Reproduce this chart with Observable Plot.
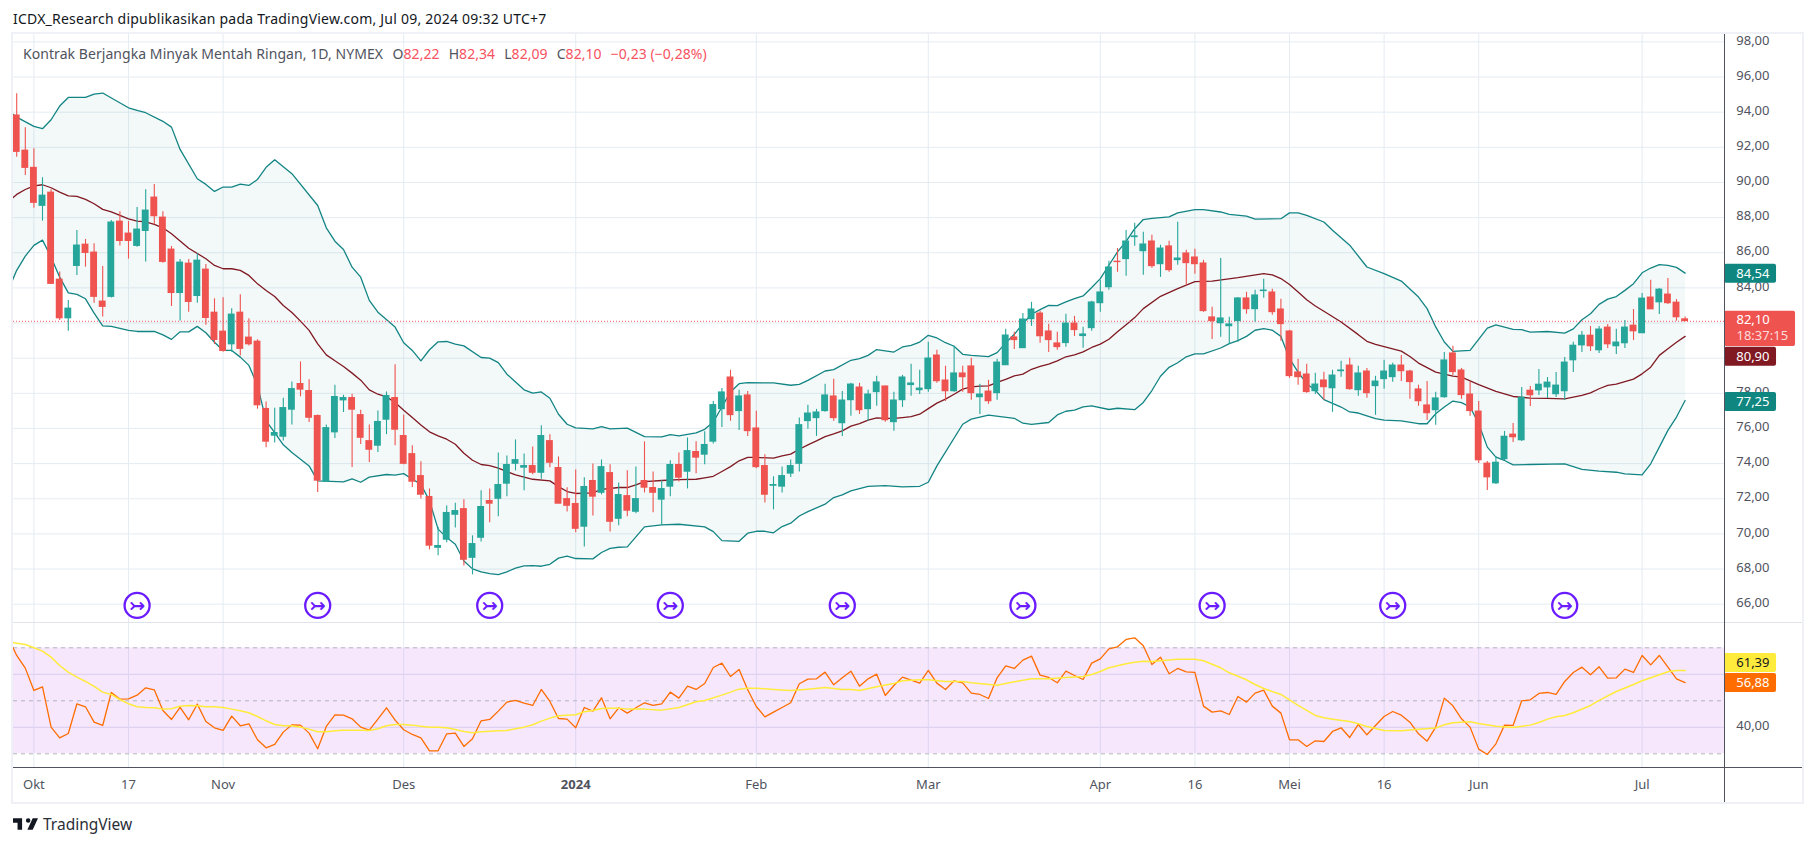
<!DOCTYPE html>
<html lang="id">
<head>
<meta charset="utf-8">
<title>Kontrak Berjangka Minyak Mentah Ringan</title>
<script src="https://cdn.jsdelivr.net/npm/d3@7"></script>
<script src="https://cdn.jsdelivr.net/npm/@observablehq/plot@0.6"></script>
<style>
  html, body { margin: 0; padding: 0; background: #fff; overflow: hidden; }
  body { width: 1814px; height: 846px; position: relative; font-family: "Noto Sans", sans-serif; }
  .abs { position: absolute; }
  #publisher { left: 13px; top: 9px; font-size: 14px; line-height: 20px; color: #131722; white-space: nowrap; letter-spacing: 0.22px; }
  #legend { left: 23px; top: 44px; font-size: 14px; line-height: 20px; color: #50535e; white-space: nowrap; letter-spacing: 0.06px; }
  #legend span { margin-right: 9px; }
  #legend b { font-weight: 400; color: #f7525f; }
  #frame { left: 11px; top: 32px; width: 1789px; height: 768px; border: 2px solid #eff1f6; pointer-events: none; }
  #sep { left: 13px; top: 622px; width: 1789px; height: 1px; background: #e0e3eb; }
  #axisV { left: 1724px; top: 34px; width: 1px; height: 768px; background: #50535e; }
  #axisH { left: 13px; top: 767px; width: 1789px; height: 1px; background: #50535e; }
  #brand { left: 43px; top: 813px; font-size: 15.5px; line-height: 22px; color: #2a2e39; }
  #logo { left: 13px; top: 818px; }
</style>
</head>
<body>
<div id="publisher" class="abs"></div>
<div id="main" class="abs" style="left:0;top:33px"></div>
<div id="rsiPane" class="abs" style="left:0;top:622px"></div>
<div id="frame" class="abs"></div>
<div id="sep" class="abs"></div>
<div id="axisV" class="abs"></div>
<div id="axisH" class="abs"></div>
<div id="legend" class="abs"></div>
<svg id="logo" class="abs" width="25" height="12" viewBox="2 6 33 15"><path fill="#131722" d="M14 6H2v6h6v9h6V6Zm14 15h-7l7-15h7l-7 15Zm-6-9a3 3 0 1 0 0-6 3 3 0 0 0 0 6Z"/></svg>
<div id="brand" class="abs"></div>
<script>
const publisherLine = "ICDX_Research dipublikasikan pada TradingView.com, Jul 09, 2024 09:32 UTC+7";
const brandName = "TradingView";
const symbolName = "Kontrak Berjangka Minyak Mentah Ringan, 1D, NYMEX";
const ohlcLegend = [["O","82,22"],["H","82,34"],["L","82,09"],["C","82,10"]];
const changeLegend = "\u22120,23 (\u22120,28%)";

const barHigh = [95.05,93.11,91.92,90.27,89.59,84.90,83.29,87.27,86.76,86.51,
85.22,87.84,88.33,87.78,88.58,89.59,89.89,88.33,86.36,85.62,
85.62,85.94,85.33,83.38,83.44,82.81,83.61,82.24,81.05,77.51,
77.15,77.72,78.65,79.79,78.77,76.77,76.20,78.46,77.89,77.95,
77.04,76.20,77.00,78.08,79.62,76.77,75.01,74.10,72.56,70.36,
71.59,71.75,71.94,69.89,72.45,72.56,74.61,74.44,75.35,74.55,
74.95,76.15,75.64,74.38,72.62,73.64,73.19,73.98,74.21,73.93,
72.90,73.59,73.81,75.24,73.53,73.02,74.16,74.61,75.46,75.24,
75.81,77.54,78.28,79.31,78.17,78.11,76.98,74.50,73.25,73.81,
74.21,76.60,77.32,77.09,78.51,78.80,78.11,78.57,78.57,78.17,
78.97,78.40,78.06,79.02,79.65,79.31,80.90,80.45,79.54,80.68,
79.54,79.99,78.51,78.74,79.94,81.64,81.47,82.55,83.18,82.67,
81.93,81.47,82.50,82.38,81.76,83.24,84.43,85.51,86.24,87.26,
87.68,87.17,86.99,86.43,86.65,87.73,86.14,86.20,85.57,82.90,
85.68,82.33,83.46,83.75,83.86,84.49,83.92,83.35,81.59,79.94,
79.65,79.14,79.20,79.31,79.82,79.99,79.54,79.42,78.97,79.88,
79.71,80.16,79.31,78.46,78.68,78.06,80.33,80.68,79.42,78.63,
77.54,74.12,74.41,75.83,76.28,78.33,78.39,79.36,78.90,79.19,
80.04,80.90,81.52,81.81,81.81,81.92,81.64,82.15,82.77,83.68,
84.43,83.97,84.54,83.34,82.34];

const barLow = [91.44,90.40,88.54,87.80,84.22,82.15,81.54,84.71,85.18,83.13,
82.34,83.42,86.38,85.64,86.32,85.47,87.59,85.41,82.94,82.11,
82.62,83.13,81.88,80.78,80.34,80.34,80.12,80.69,77.10,74.90,
75.18,75.29,76.20,77.80,76.34,72.35,72.92,75.43,76.91,73.78,
75.09,74.06,74.63,75.65,75.01,73.93,72.64,71.99,69.09,68.75,
69.49,70.34,68.18,67.67,69.54,70.63,70.97,72.11,73.59,72.45,
73.36,73.11,73.76,71.71,71.25,70.06,69.26,71.02,72.22,70.11,
70.46,70.97,71.14,72.33,71.20,70.46,72.11,72.96,72.56,73.42,
73.93,75.12,76.06,76.41,75.89,75.55,73.71,71.76,71.37,72.33,
73.21,73.53,75.95,75.55,76.92,76.41,75.55,76.69,76.80,76.41,
77.26,76.35,75.84,77.20,77.83,77.94,78.06,78.57,77.54,78.06,
78.06,77.60,76.80,77.37,77.60,79.59,80.50,80.56,81.81,80.85,
80.33,80.45,80.62,81.24,80.56,81.53,82.61,83.86,84.89,84.66,
86.37,84.72,85.12,84.60,84.89,85.29,84.15,84.77,82.61,81.07,
81.19,80.79,80.90,82.50,82.04,83.41,82.44,80.96,78.85,78.46,
78.00,77.94,77.60,76.92,78.91,78.17,77.83,77.72,76.75,78.23,
78.63,78.68,77.66,77.26,76.46,76.18,77.72,79.02,77.66,76.69,
74.01,72.47,72.81,74.18,75.20,75.26,77.25,77.88,77.71,77.76,
77.59,79.19,80.33,80.38,80.27,80.55,80.21,80.55,81.01,81.41,
82.77,82.49,83.06,82.11,82.09];

const barOpen = [93.82,91.82,90.84,88.66,89.43,84.48,82.26,85.24,86.47,86.02,
83.23,83.48,87.78,87.10,86.38,87.23,89.15,88.01,86.19,83.70,
85.39,83.53,85.05,82.60,81.52,80.78,82.60,81.18,80.95,77.12,
75.58,75.52,77.06,78.54,78.14,76.72,72.96,75.77,77.59,77.74,
76.77,75.29,75.01,76.49,77.74,75.58,74.55,73.30,72.11,69.20,
69.66,71.08,71.42,68.63,69.77,71.88,71.99,72.85,73.98,73.76,
73.87,73.47,75.29,73.76,71.99,71.71,70.40,73.02,72.33,73.47,
70.85,72.16,71.25,73.02,72.62,71.94,72.68,73.93,73.53,74.67,
74.50,75.24,77.09,78.91,76.98,77.89,76.01,73.87,72.73,72.68,
73.42,73.98,76.41,76.58,76.98,77.83,76.29,77.60,78.34,77.09,
78.06,78.40,76.35,77.60,78.46,78.17,78.23,80.16,78.74,78.11,
79.14,79.54,77.77,78.11,78.00,79.59,81.19,80.56,82.21,82.55,
81.53,80.85,80.85,81.98,81.25,81.70,83.12,84.03,85.50,85.63,
86.88,86.08,86.65,85.34,86.37,85.57,85.97,85.74,85.40,82.33,
81.98,81.81,82.10,83.41,82.78,83.81,83.75,82.78,81.53,79.20,
79.08,78.11,78.74,78.28,79.25,79.59,78.17,79.25,78.40,78.80,
78.91,79.59,79.25,78.23,77.32,77.03,77.77,80.28,79.31,77.94,
76.97,74.01,72.87,74.24,75.66,75.32,78.16,78.16,78.33,77.94,
78.11,79.87,80.72,81.29,80.44,81.75,80.67,80.84,81.86,81.41,
83.46,83.17,83.63,83.17,82.22];

const barClose = [91.73,90.82,88.83,89.26,84.22,82.26,82.83,86.42,85.98,83.48,
82.91,87.73,86.66,86.66,87.33,88.41,88.07,85.47,83.70,85.45,
83.19,85.56,82.28,81.03,80.40,82.49,80.52,80.78,77.31,75.24,
75.75,77.17,78.25,78.20,76.60,73.02,76.03,77.80,77.74,77.06,
75.46,74.78,76.38,77.86,75.92,73.98,72.96,72.22,69.32,69.32,
71.20,71.31,68.52,69.43,71.54,71.71,72.79,73.93,74.21,73.87,
73.47,75.58,74.04,71.71,71.59,70.28,72.68,72.11,73.81,70.68,
72.22,71.31,71.99,72.62,72.33,72.56,73.93,73.19,74.72,74.33,
75.07,77.34,78.06,76.75,77.83,75.84,73.79,72.22,72.79,73.30,
73.87,76.20,76.86,76.92,77.89,76.58,77.60,78.51,77.03,77.94,
78.63,76.46,77.60,78.91,78.57,78.28,79.99,78.68,78.11,79.14,
78.91,78.00,77.94,77.54,79.76,81.30,81.02,82.21,82.78,81.24,
81.02,80.62,81.98,81.59,81.36,83.18,83.75,85.17,85.46,86.65,
86.94,86.48,85.23,86.25,85.00,85.68,85.40,85.34,82.67,82.10,
82.27,81.93,83.41,82.78,83.58,83.86,82.61,81.93,78.97,78.91,
78.06,78.51,78.34,79.02,79.31,78.23,79.14,78.00,78.68,79.25,
79.59,79.25,78.63,77.54,76.86,77.72,79.88,79.20,77.89,76.98,
74.18,73.21,74.06,75.54,75.49,77.76,77.88,78.50,78.62,78.45,
79.76,80.72,81.29,80.67,81.64,80.78,80.90,81.75,81.52,83.40,
82.77,83.91,83.12,82.32,82.10];

// Bollinger bands as [session index, price], read at the visible vertices
const upperBand = [[-1,94.10],[0,93.72],[2,93.19],[3,93.06],[4,93.57],[5,94.35],[6,94.84],[8,94.84],[9,95.03],[10,95.09],[13,94.25],[14,94.10],[15,93.97],[17,93.48],[18,93.15],[19,91.88],[21,90.21],[22,89.89],[23,89.49],[24,89.74],[25,89.74],[26,89.91],[27,89.83],[28,90.17],[29,90.86],[30,91.29],[32,90.50],[35,88.69],[36,87.42],[37,86.66],[38,86.19],[39,85.18],[40,84.61],[41,83.29],[42,82.62],[44,81.77],[45,80.88],[46,80.44],[47,79.85],[48,80.48],[49,80.93],[50,80.95],[51,80.80],[52,80.70],[54,80.04],[55,80.00],[56,79.75],[57,79.09],[59,78.20],[60,78.01],[61,78.08],[62,77.72],[63,76.81],[64,76.24],[65,76.03],[67,75.98],[68,76.11],[69,75.98],[71,76.02],[73,75.54],[75,75.52],[76,75.65],[77,75.58],[79,75.75],[80,75.95],[81,76.37],[82,77.22],[83,78.08],[84,78.55],[85,78.61],[88,78.59],[90,78.46],[91,78.51],[92,78.74],[94,79.27],[95,79.35],[97,79.88],[98,79.97],[99,80.16],[100,80.49],[102,80.35],[103,80.64],[104,80.73],[105,80.92],[106,81.30],[107,81.15],[108,80.88],[109,80.68],[110,80.22],[111,80.16],[113,80.09],[114,80.32],[115,80.87],[116,81.36],[117,81.97],[118,82.50],[119,82.76],[120,83.01],[121,82.99],[122,83.20],[123,83.39],[124,83.54],[125,84.02],[126,84.53],[127,85.29],[128,86.05],[129,86.65],[130,87.37],[131,87.89],[132,87.96],[134,88.04],[135,88.27],[137,88.46],[138,88.46],[140,88.32],[141,88.19],[143,88.08],[144,87.91],[147,87.94],[148,88.27],[149,88.27],[150,88.13],[152,87.75],[153,87.28],[155,86.43],[157,85.19],[159,84.81],[161,84.39],[163,83.48],[164,82.82],[165,81.78],[166,80.92],[167,80.39],[169,80.45],[171,81.71],[172,81.90],[174,81.64],[175,81.62],[176,81.48],[178,81.52],[180,81.43],[181,81.67],[182,82.19],[183,82.53],[184,83.06],[185,83.36],[186,83.51],[187,83.86],[188,84.24],[189,84.86],[190,85.13],[191,85.32],[192,85.28],[193,85.17],[194,84.84]];

const middleBand = [[-1,88.88],[0,89.32],[1,89.60],[2,89.81],[3,89.87],[4,89.70],[5,89.45],[6,89.24],[7,89.21],[8,89.04],[9,88.79],[10,88.47],[11,88.33],[13,87.93],[14,87.80],[15,87.76],[16,87.61],[17,87.42],[18,87.08],[20,86.26],[22,85.66],[23,85.28],[24,85.09],[25,85.09],[26,85.00],[27,84.71],[28,84.23],[29,83.85],[30,83.51],[31,83.00],[32,82.60],[33,82.11],[34,81.58],[35,80.82],[36,80.19],[37,79.85],[38,79.53],[39,79.15],[40,78.75],[41,78.20],[42,77.95],[43,77.80],[44,77.48],[45,77.04],[46,76.62],[47,76.20],[48,75.81],[49,75.58],[50,75.39],[51,75.10],[52,74.59],[53,74.19],[54,73.95],[55,73.89],[56,73.74],[58,73.36],[60,73.11],[62,73.02],[63,72.69],[64,72.41],[65,72.30],[67,72.33],[68,72.54],[70,72.64],[71,72.64],[72,72.79],[73,72.98],[75,73.04],[77,73.09],[79,73.11],[80,73.19],[81,73.28],[82,73.55],[83,73.83],[84,74.16],[85,74.35],[86,74.35],[88,74.31],[89,74.44],[90,74.54],[91,74.82],[92,75.07],[93,75.29],[94,75.54],[95,75.69],[96,75.86],[97,76.13],[98,76.28],[99,76.47],[100,76.60],[101,76.57],[102,76.57],[103,76.62],[104,76.68],[105,76.81],[106,77.13],[107,77.44],[108,77.67],[109,77.95],[110,78.24],[111,78.37],[112,78.41],[113,78.43],[114,78.62],[115,78.80],[116,78.99],[117,79.09],[118,79.37],[119,79.53],[120,79.66],[121,79.85],[122,80.08],[123,80.19],[124,80.36],[125,80.61],[126,80.80],[127,81.08],[128,81.50],[129,81.90],[130,82.31],[131,82.82],[133,83.52],[135,83.96],[137,84.36],[139,84.39],[142,84.58],[145,84.81],[146,84.74],[147,84.53],[148,84.19],[149,83.77],[150,83.33],[151,82.97],[152,82.67],[154,82.06],[156,81.34],[157,80.96],[158,80.79],[161,80.40],[162,80.10],[163,79.72],[165,79.21],[167,78.98],[168,78.92],[170,78.50],[172,78.11],[174,77.82],[176,77.73],[178,77.71],[180,77.69],[182,77.88],[183,78.03],[184,78.26],[185,78.45],[186,78.52],[188,78.81],[189,79.11],[190,79.49],[191,80.16],[192,80.54],[193,80.91],[194,81.24]];

const lowerBand = [[-1,83.85],[0,85.00],[1,85.81],[2,86.42],[3,86.72],[4,85.75],[5,84.61],[6,83.72],[7,83.63],[8,83.38],[9,82.56],[10,81.84],[11,81.81],[13,81.58],[14,81.52],[16,81.52],[17,81.33],[18,81.07],[19,81.50],[20,81.50],[21,81.81],[22,81.45],[23,80.91],[24,80.44],[25,80.44],[26,80.06],[27,79.59],[28,78.45],[29,76.43],[30,75.77],[31,75.07],[32,74.63],[33,74.25],[34,73.87],[35,73.02],[38,72.96],[39,73.13],[40,72.94],[41,73.23],[43,73.38],[44,73.34],[45,73.43],[46,73.11],[47,72.83],[48,71.88],[49,70.27],[50,69.79],[51,69.41],[52,68.46],[53,68.01],[54,67.84],[55,67.74],[56,67.68],[57,67.84],[58,68.05],[59,68.18],[60,68.20],[61,68.16],[62,68.27],[63,68.62],[64,68.73],[65,68.60],[67,68.58],[68,68.94],[69,69.18],[70,69.24],[71,69.26],[72,69.83],[73,70.40],[75,70.51],[77,70.55],[80,70.40],[81,70.13],[82,69.62],[84,69.58],[85,70.04],[86,70.15],[87,70.15],[88,70.06],[89,70.42],[90,70.61],[91,71.02],[92,71.27],[94,71.69],[95,72.07],[96,72.22],[97,72.45],[99,72.71],[101,72.75],[103,72.68],[105,72.71],[106,72.94],[107,73.87],[110,76.24],[111,76.53],[113,76.76],[116,76.58],[117,76.30],[118,76.23],[120,76.34],[121,76.77],[122,76.98],[123,77.04],[124,77.23],[125,77.29],[127,77.08],[128,77.15],[130,77.07],[131,77.48],[132,78.16],[133,78.97],[134,79.48],[135,79.74],[136,80.08],[137,80.24],[138,80.24],[140,80.58],[141,80.83],[142,81.00],[143,81.24],[144,81.59],[145,81.68],[146,81.59],[147,81.24],[148,79.97],[149,79.21],[150,78.55],[151,78.17],[152,77.64],[154,77.22],[155,76.94],[156,76.88],[158,76.56],[159,76.48],[161,76.43],[163,76.27],[164,76.27],[165,76.84],[166,77.22],[167,77.56],[168,77.47],[169,77.22],[170,76.27],[171,74.94],[172,74.37],[173,74.18],[174,73.93],[176,73.95],[180,73.99],[182,73.67],[184,73.57],[186,73.51],[187,73.42],[189,73.36],[190,73.99],[191,74.94],[192,75.89],[193,76.65],[194,77.59]];

// RSI, one value per session, from the session before the first full bar
const rsiValues = [73.90,
67.11,62.33,53.90,55.28,40.06,36.04,37.67,48.87,47.74,41.95,
40.69,53.14,50.63,50.75,52.14,54.91,54.15,46.35,42.96,47.48,
42.83,48.74,42.20,39.81,38.81,44.21,40.57,41.32,35.28,32.26,
33.52,38.18,40.94,40.82,37.80,31.89,40.31,44.72,44.59,43.21,
40.06,38.93,43.08,47.36,42.70,39.06,37.30,36.04,31.13,31.13,
37.55,37.80,32.77,35.66,42.45,42.96,46.10,49.50,50.13,49.12,
48.24,54.28,49.75,43.33,43.08,39.81,47.48,46.10,51.13,43.21,
47.36,45.35,47.36,49.25,48.24,48.87,53.27,51.01,55.53,54.28,
56.54,62.58,64.21,59.18,61.82,54.15,47.86,43.96,45.72,47.48,
49.25,56.42,58.18,58.30,60.82,56.04,58.68,61.19,55.53,58.30,
60.06,52.01,55.79,58.93,57.80,56.67,61.45,56.67,54.28,57.55,
56.79,52.89,52.39,50.88,58.68,63.21,62.20,65.35,66.86,59.69,
58.81,56.79,61.19,59.56,58.05,64.21,65.85,69.62,70.38,73.14,
73.77,70.75,63.71,66.48,60.19,62.20,60.94,60.69,47.99,45.72,
46.23,44.84,51.64,49.50,52.89,54.03,47.99,45.35,35.28,35.28,
32.77,34.91,34.65,38.43,39.81,36.16,41.07,37.17,40.69,44.09,
45.97,44.59,41.95,37.55,34.78,40.06,51.01,48.11,43.21,40.06,
31.76,29.75,33.77,40.82,40.69,50.00,50.38,52.77,53.14,52.39,
57.30,60.69,62.70,59.81,62.83,58.55,58.68,61.95,60.69,67.11,
63.58,67.11,62.70,58.30,56.88];

const rsiAverage = [[-1,72.26],[0,71.76],[1,71.26],[2,70.00],[3,68.74],[4,66.48],[5,63.33],[6,60.82],[7,58.93],[8,57.30],[9,55.41],[10,53.27],[11,52.39],[12,50.50],[13,48.87],[14,47.74],[15,47.48],[16,47.36],[17,46.86],[18,46.98],[19,47.99],[20,48.24],[21,48.11],[22,47.74],[23,47.74],[24,47.48],[25,46.86],[26,46.23],[27,45.47],[28,44.09],[29,42.45],[30,41.07],[31,40.57],[32,40.57],[33,40.06],[34,39.31],[35,38.30],[36,38.30],[37,38.68],[38,38.93],[39,38.93],[40,38.93],[41,38.81],[42,39.43],[43,40.57],[44,41.07],[45,41.07],[46,40.82],[47,40.44],[48,40.06],[49,40.06],[50,39.81],[51,39.18],[52,38.43],[53,37.92],[54,38.30],[55,38.55],[56,38.68],[57,38.81],[58,39.43],[59,40.06],[60,40.94],[61,42.33],[62,43.46],[63,44.34],[64,44.59],[65,44.72],[66,45.85],[67,46.35],[68,47.11],[69,47.23],[70,47.23],[71,46.86],[73,46.86],[75,46.48],[77,47.48],[79,49.62],[80,50.13],[82,52.14],[84,54.40],[85,54.78],[86,54.78],[88,54.28],[90,53.90],[92,54.40],[94,55.03],[96,54.28],[97,54.28],[98,53.90],[100,55.28],[102,56.54],[103,57.55],[105,57.92],[106,57.92],[108,57.30],[110,57.30],[111,56.79],[114,55.91],[116,57.17],[118,58.30],[120,58.30],[122,58.81],[124,59.18],[125,59.94],[126,61.07],[127,62.45],[129,63.96],[130,64.59],[131,64.97],[132,64.84],[133,65.09],[135,65.72],[137,65.72],[138,65.09],[140,62.45],[141,60.57],[143,57.92],[144,56.16],[145,54.65],[147,52.39],[148,50.38],[149,48.24],[150,46.35],[151,44.47],[152,43.58],[153,43.08],[155,42.20],[156,41.32],[157,40.31],[159,38.81],[161,38.68],[163,39.31],[165,39.69],[166,40.94],[167,41.70],[169,42.08],[170,41.45],[172,40.44],[174,39.94],[176,40.82],[177,41.82],[178,43.08],[179,43.96],[180,44.47],[181,45.47],[183,48.24],[184,50.13],[186,53.52],[188,56.16],[189,57.55],[191,59.81],[192,60.94],[193,61.45],[194,61.39]];

const priceGrid = [66,68,70,72,74,76,78,80,82,84,86,88,90,92,94,96,98];
// 80, 82 sit fully behind the value tags in the reference, so they have no visible label
const priceTickLabels = [66,68,70,72,74,76,78,84,86,88,90,92,94,96,98];
const rsiGridTicks = [40,60];
const rsiTickLabels = [40];
const rsiLevels = [30,50,70];
const timeTicks = [[2,"Okt"],[13,"17"],[24,"Nov"],[45,"Des"],[65,"2024"],[86,"Feb"],[106,"Mar"],[126,"Apr"],[137,"16"],[148,"Mei"],[159,"16"],[170,"Jun"],[189,"Jul"]];
const yearTickLabel = "2024";
const eventSessions = [14,35,55,76,96,117,139,160,180];
const eventPrice = 65.93;
const lastClose = 82.10;
// value tags on the price axis: text, price at the tag's centre, fill, text colour
const priceTags = [["84,54",84.80,"#0f8780","#fff"],["80,90",80.08,"#801922","#fff"],["77,25",77.51,"#0f8780","#fff"]];
const closeTag = {centre: 81.67, label: "82,10", labelAt: 82.18, timer: "18:37:15", timerAt: 81.29};
const rsiTags = [["61,39",64.26,"#ffeb3b","#131722"],["56,88",56.72,"#ff6d00","#fff"]];

const xDomain = [-0.372, 198.58];
const font = {fontFamily: '"Noto Sans", sans-serif', fontSize: "13px", background: "transparent", overflow: "visible"};
const GRID = "#e5ecf2", RED = "#ef5350", GREEN = "#26a69a", BAND = "#138484", MID = "#801922", TAGTEXT = "#50535e";
const fmt = d => d.toFixed(2).replace(".", ",");
const bars = barOpen.map((o, i) => ({i, o, c: barClose[i], h: barHigh[i], l: barLow[i], color: barClose[i] >= o ? GREEN : RED}));
const pairX = d => d[0], pairY = d => d[1];
const bandShape = upperBand.concat(lowerBand.slice().reverse());
const tagW = 6.05, tagH = 0.54, rsiTagH = 3.6, closeTagW = 8.26;
const timeLabel = {x: pairX, frameAnchor: "bottom", lineAnchor: "middle", dy: 17, text: d => d[1], fill: TAGTEXT, fontSize: 13};

document.getElementById("publisher").textContent = publisherLine;
document.getElementById("brand").textContent = brandName;
document.getElementById("legend").innerHTML =
  `<span style="margin-right:9.5px">${symbolName}</span>` +
  ohlcLegend.map(([k, v]) => `<span>${k}<b>${v}</b></span>`).join("") +
  `<span><b>${changeLegend}</b></span>`;

document.getElementById("main").appendChild(Plot.plot({
  width: 1814, height: 589, marginTop: 0, marginBottom: 0, marginLeft: 13, marginRight: 90,
  x: {domain: xDomain, axis: null},
  y: {domain: [64.958, 98.478], axis: null},
  style: font,
  marks: [
    Plot.ruleY(priceGrid, {stroke: GRID, strokeWidth: 1}),
    Plot.ruleX(timeTicks, {x: pairX, stroke: GRID, strokeWidth: 1}),
    Plot.line(bandShape, {x: pairX, y: pairY, fill: BAND, fillOpacity: 0.05, stroke: "none", clip: "frame", curve: "linear"}),
    Plot.line(upperBand, {x: pairX, y: pairY, stroke: BAND, strokeWidth: 1.3, clip: "frame"}),
    Plot.line(lowerBand, {x: pairX, y: pairY, stroke: BAND, strokeWidth: 1.3, clip: "frame"}),
    Plot.line(middleBand, {x: pairX, y: pairY, stroke: MID, strokeWidth: 1.3, clip: "frame"}),
    Plot.ruleY([lastClose], {stroke: "#f7525f", strokeWidth: 1, strokeDasharray: "1,2"}),
    Plot.ruleX(bars, {x: "i", y1: "l", y2: "h", stroke: "color", strokeWidth: 1.1}),
    Plot.rect(bars, {x1: d => d.i - 0.4, x2: d => d.i + 0.4, y1: d => Math.min(d.o, d.c) - 0.02, y2: d => Math.max(d.o, d.c) + 0.02, fill: "color", clip: "frame"}),
    Plot.dot(eventSessions, {x: d => d, y: () => eventPrice, r: 12.5, stroke: "#6a1bff", strokeWidth: 2.3, fill: "#fff"}),
    Plot.text(eventSessions, {x: d => d, y: () => eventPrice, text: () => "\u21a3", fill: "#6a1bff", fontSize: 19, fontWeight: 700, fontFamily: "DejaVu Sans"}),
    Plot.text(priceTickLabels, {x: () => xDomain[1], y: d => d, text: fmt, dx: 45, dy: -1.5, textAnchor: "end", fill: TAGTEXT, fontSize: 13}),
    Plot.rect(priceTags, {x1: () => xDomain[1], x2: () => xDomain[1] + tagW, y1: d => d[1] - tagH, y2: d => d[1] + tagH, fill: d => d[2], rx: 2}),
    Plot.text(priceTags, {x: () => xDomain[1], y: d => d[1], text: d => d[0], dx: 45, textAnchor: "end", fill: d => d[3], fontSize: 13}),
    Plot.rect([closeTag], {x1: () => xDomain[1], x2: () => xDomain[1] + closeTagW, y1: d => d.centre - 1.0, y2: d => d.centre + 1.0, fill: RED, rx: 2}),
    Plot.text([closeTag], {x: () => xDomain[1], y: d => d.labelAt, text: d => d.label, dx: 12, textAnchor: "start", fill: "#fff", fontSize: 13}),
    Plot.text([closeTag], {x: () => xDomain[1], y: d => d.timerAt, text: d => d.timer, dx: 12, textAnchor: "start", fill: "#fff", fillOpacity: 0.8, fontSize: 13})
  ]
}));

document.getElementById("rsiPane").appendChild(Plot.plot({
  width: 1814, height: 179, marginTop: 0, marginBottom: 34, marginLeft: 13, marginRight: 90,
  x: {domain: xDomain, axis: null},
  y: {domain: [24.83, 79.55], axis: null},
  style: font,
  marks: [
    Plot.ruleY(rsiGridTicks, {stroke: "#dfe3ee"}),
    Plot.ruleX(timeTicks, {x: pairX, stroke: GRID}),
    Plot.rect([rsiLevels], {x1: () => xDomain[0], x2: () => xDomain[1], y1: d => d[0], y2: d => d[2], fill: "#b020f0", fillOpacity: 0.11}),
    Plot.ruleY(rsiLevels, {stroke: "#b2b5be", strokeDasharray: "4,4"}),
    Plot.line(rsiValues, {x: (d, i) => i - 1, y: d => d, stroke: "#ff6d00", strokeWidth: 1.3, clip: "frame"}),
    Plot.line(rsiAverage, {x: pairX, y: pairY, stroke: "#ffeb3b", strokeWidth: 1.5, clip: "frame"}),
    Plot.text(rsiTickLabels, {x: () => xDomain[1], y: d => d, text: fmt, dx: 45, dy: -1, textAnchor: "end", fill: TAGTEXT, fontSize: 13}),
    Plot.rect(rsiTags, {x1: () => xDomain[1], x2: () => xDomain[1] + tagW, y1: d => d[1] - rsiTagH, y2: d => d[1] + rsiTagH, fill: d => d[2], rx: 2}),
    Plot.text(rsiTags, {x: () => xDomain[1], y: d => d[1], text: d => d[0], dx: 45, textAnchor: "end", fill: d => d[3], fontSize: 13}),
    Plot.text(timeTicks.filter(d => d[1] !== yearTickLabel), timeLabel),
    Plot.text(timeTicks.filter(d => d[1] === yearTickLabel), {...timeLabel, fontWeight: 700})
  ]
}));
</script>
</body>
</html>
